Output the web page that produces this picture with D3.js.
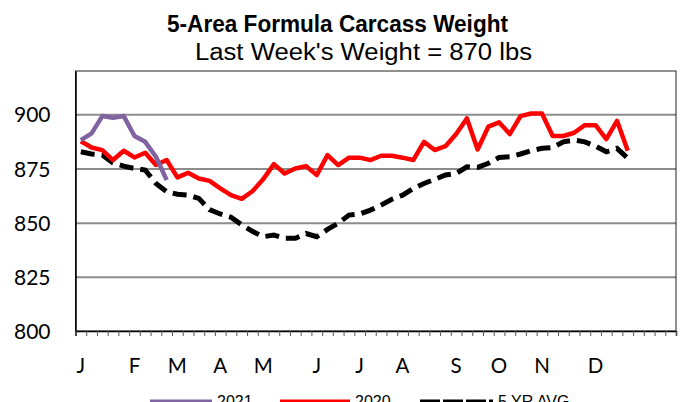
<!DOCTYPE html>
<html>
<head>
<meta charset="utf-8">
<script src="https://cdn.jsdelivr.net/npm/d3@7"></script>
<style>
  body { margin: 0; background: #fff; }
  svg { display: block; }
</style>
</head>
<body>
<div id="chart"></div>
<script>

// weekly slots on the category axis (ticks between slots)
var slotCount = 56;

var monthLabels = ["J", "F", "M", "A", "M", "J", "J", "A", "S", "O", "N", "D"];
var monthSlots = [0, 5, 9, 13, 17, 22, 26, 30, 35, 39, 43, 48];

var yTicks = [800, 825, 850, 875, 900];

var weight2021 = [888.1, 891.2, 899.2, 898.4, 899.2, 890, 887.3, 880.4, 869.7];

var weight2020 = [887.6, 884.7, 883.5, 878.9, 883.2, 880.1, 882.3, 876.6, 878.9, 870.9,
    873, 870.4, 869.3, 865.8, 862.7, 861, 864.5, 870, 877, 872.7,
    875, 876.1, 872, 881.2, 876.6, 880, 880, 878.9, 880.9, 880.9,
    880, 878.9, 887.3, 883.5, 885.3, 890.9, 898.1, 883.8, 894.3, 896.3,
    890.9, 899.2, 900.4, 900.4, 890, 890, 891.5, 895, 895, 888.6,
    897, 883.2];

var avg5yr = [882.7, 881.7, 881.2, 877.6, 876.1, 875, 874.3, 868.1, 864.3, 863.1,
    862.7, 861.2, 856, 854, 852.5, 849, 846, 843.5, 844.3, 842.8,
    842.8, 845, 843.5, 846.9, 849.7, 853.5, 854, 855.8, 858.1, 860.8,
    862.7, 865.8, 868.1, 870, 872, 872.7, 875.8, 875.5, 877.4, 880.1,
    880.4, 881.7, 883.2, 884.3, 884.7, 887.3, 888.1, 887.3, 885.3, 882.7,
    884.3, 879.7];

var width = 681, height = 402;
var plotL = 75.5, plotR = 676, plotT = 71, plotB = 331;

var svg = d3.select("#chart").append("svg")
    .attr("width", width)
    .attr("height", height);

svg.append("rect").attr("width", width).attr("height", height).attr("fill", "#fff");

// titles
svg.append("text")
    .attr("x", 167).attr("y", 32)
    .attr("textLength", 341).attr("lengthAdjust", "spacingAndGlyphs")
    .style("font-family", "'Liberation Sans', Arial, sans-serif")
    .style("font-size", "23px").style("font-weight", "bold")
    .text("5-Area Formula Carcass Weight");

svg.append("text")
    .attr("x", 195).attr("y", 59.5)
    .attr("textLength", 337).attr("lengthAdjust", "spacingAndGlyphs")
    .style("font-family", "'Liberation Sans', Arial, sans-serif")
    .style("font-size", "23px")
    .text("Last Week's Weight = 870 lbs");

var xb = d3.scaleLinear().domain([0, slotCount]).range([plotL, plotR]);
var y = d3.scaleLinear().domain([800, 920]).range([plotB, plotT]);

function xc(i) { return xb(i + 0.5); }

// gridlines
var grid = svg.append("g")
    .attr("transform", "translate(" + plotL + ",0)")
    .call(d3.axisLeft(y).tickValues(yTicks.slice(1)).tickSize(-(plotR - plotL)).tickFormat(""));
grid.select(".domain").remove();
grid.selectAll("line").attr("stroke", "#8c8c8c").attr("stroke-width", 2);

// plot border
svg.append("rect")
    .attr("x", plotL).attr("y", plotT)
    .attr("width", plotR - plotL).attr("height", plotB - plotT)
    .attr("fill", "none").attr("stroke", "#222").attr("stroke-width", 1);

// y labels
var yAxis = svg.append("g")
    .attr("transform", "translate(" + plotL + ",0)")
    .call(d3.axisLeft(y).tickValues(yTicks).tickSize(0).tickPadding(25));
yAxis.select(".domain").attr("stroke", "#000").attr("stroke-width", 1.5);
yAxis.selectAll("text")
    .attr("dy", "0.36em")
    .style("font-family", "Lato, sans-serif")
    .style("font-size", "21px")
    .attr("fill", "#000");

// x axis ticks between weeks
var xAxis = svg.append("g")
    .attr("transform", "translate(0," + plotB + ")")
    .call(d3.axisBottom(xb).tickValues(d3.range(slotCount + 1)).tickSize(5).tickFormat(""));
xAxis.select(".domain").attr("stroke", "#000").attr("stroke-width", 1.5);
xAxis.selectAll("line").attr("stroke", "#555");

svg.append("g").selectAll("text")
    .data(monthLabels)
    .enter().append("text")
    .attr("x", function (d, i) { return xc(monthSlots[i]); })
    .attr("y", 373)
    .attr("text-anchor", "middle")
    .style("font-family", "Lato, sans-serif")
    .style("font-size", "20.5px")
    .text(function (d) { return d; });

var line = d3.line()
    .x(function (d, i) { return xc(i); })
    .y(function (d) { return y(d); });

svg.append("path")
    .datum(avg5yr)
    .attr("d", line)
    .attr("fill", "none")
    .attr("stroke", "#000")
    .attr("stroke-width", 5)
    .attr("stroke-dasharray", "14,7");

svg.append("path")
    .datum(weight2020)
    .attr("d", line)
    .attr("fill", "none")
    .attr("stroke", "#ff0000")
    .attr("stroke-width", 4.5)
    .attr("stroke-linejoin", "round");

svg.append("path")
    .datum(weight2021)
    .attr("d", line)
    .attr("fill", "none")
    .attr("stroke", "#8064a2")
    .attr("stroke-width", 4.5)
    .attr("stroke-linejoin", "round");

// legend (bottom, partly cut off)
var legendItems = [
    { name: "2021", color: "#8064a2", x1: 150, x2: 212, dash: null },
    { name: "2020", color: "#ff0000", x1: 280, x2: 350, dash: null },
    { name: "5 YR AVG", color: "#000", x1: 420, x2: 493, dash: "20,3" }
];

var lg = svg.append("g").selectAll("g")
    .data(legendItems)
    .enter().append("g");

lg.append("line")
    .attr("x1", function (d) { return d.x1; })
    .attr("x2", function (d) { return d.x2; })
    .attr("y1", 402).attr("y2", 402)
    .attr("stroke", function (d) { return d.color; })
    .attr("stroke-width", 5)
    .attr("stroke-dasharray", function (d) { return d.dash; });

lg.append("text")
    .attr("x", function (d) { return d.x2 + 5; })
    .attr("y", 407)
    .style("font-family", "'Liberation Sans', Arial, sans-serif")
    .style("font-size", "16px")
    .text(function (d) { return d.name; });

</script>
</body>
</html>
